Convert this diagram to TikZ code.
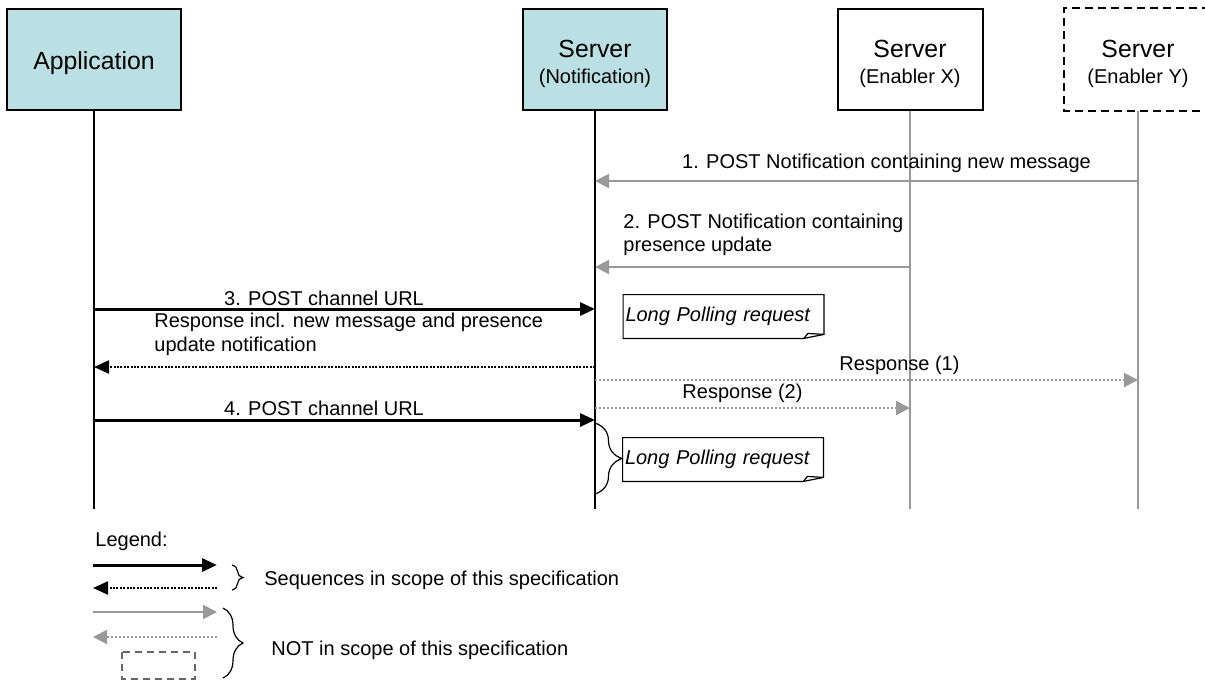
\documentclass[tikz,border=0pt]{standalone}
\usepackage{fontspec}
\setmainfont{Liberation Sans}
\usetikzlibrary{arrows.meta,decorations.pathreplacing,positioning}

\definecolor{boxcyan}{RGB}{187,224,227}
\definecolor{midgrey}{RGB}{153,153,153}
\definecolor{darkgrey}{RGB}{102,102,102}

\newcommand\bigfont{\fontsize{12.4}{13.4}\selectfont}
\newcommand\lblfont{\fontsize{10}{11.7}\selectfont}
\newcommand\toppad{\rule{0pt}{13pt}}

\tikzset{
  actor/.style={draw, line width=1pt, fill=boxcyan, minimum height=50.5pt,
    inner sep=0pt, align=center, font=\bigfont},
  extactor/.style={draw, line width=1pt, minimum height=50.5pt,
    inner sep=0pt, align=center, font=\bigfont},
  lifeline/.style={line width=1pt},
  extlifeline/.style={line width=1pt, midgrey},
  reqmsg/.style={line width=1.5pt, -{Triangle[length=7.5pt,width=6.5pt]}},
  respmsg/.style={line width=1.1pt, dash pattern=on 1pt off 0.7pt,
    -{Triangle[length=7.5pt,width=6.5pt]}},
  extmsg/.style={line width=1pt, midgrey, -{Triangle[length=7pt,width=7pt]}},
  extresp/.style={line width=1pt, midgrey, dash pattern=on 1pt off 1pt,
    -{Triangle[length=7pt,width=7pt]}},
  lbl/.style={font=\lblfont, inner sep=0pt},
  notetext/.style={font=\lblfont\itshape, text width=98pt, inner xsep=1pt,
    inner ysep=0pt, minimum height=21.5pt, align=left},
  lpbrace/.style={line width=0.6pt, decorate, decoration={brace, amplitude=#1}},
}

% folded note outline
\newcommand\dogear[1]{%
  \draw[line width=0.6pt] (#1.north west) -- (#1.north east)
    -- ([yshift=2pt]#1.south east) -- ([xshift=-10pt]#1.south east)
    -- (#1.south west) -- cycle;
  \draw[line width=0.6pt] ([xshift=-10pt]#1.south east)
    -- ([xshift=-8pt,yshift=2.5pt]#1.south east) -- ([yshift=2pt]#1.south east);}

\begin{document}
\begin{tikzpicture}[x=0.5pt,y=-0.5pt]

  \useasboundingbox (0,0) rectangle (1205,682);
  \clip (0,0) rectangle (1205,682);

  % Nodes

  \node[actor, minimum width=87pt] (app) at (94,59.5) {\toppad Application};
  \node[actor, minimum width=72pt] (nsrv) at (595,59.5)
    {\toppad Server\\{\lblfont (Notification)}};
  \node[extactor, minimum width=72.5pt] (xsrv) at (910,59.5)
    {\toppad Server\\{\lblfont (Enabler X)}};
  \node[extactor, draw=none, minimum width=73pt] (ysrv) at (1138,59.5)
    {\toppad Server\\{\lblfont (Enabler Y)}};
  % open to the right, runs off the page
  \draw[line width=1pt, dash pattern=on 4pt off 2.5pt]
    ([xshift=12pt]ysrv.north east) -- (ysrv.north west) -- (ysrv.south west)
    -- ([xshift=12pt]ysrv.south east);

  % Lifelines

  \coordinate (bottom) at (0,509);
  \draw[lifeline] (app) -- (app |- bottom);
  \draw[lifeline] (nsrv) -- (nsrv |- bottom);
  \draw[extlifeline] (xsrv) -- (xsrv |- bottom);
  \draw[extlifeline] (ysrv) -- (ysrv |- bottom);

  % Messages

  \coordinate (m1) at (0,181);
  \coordinate (m2) at (0,267);
  \coordinate (m3) at (0,309);
  \coordinate (m4) at (0,367);
  \coordinate (m5) at (0,380);
  \coordinate (m6) at (0,408);
  \coordinate (m7) at (0,420);

  \draw[extmsg] (ysrv |- m1) -- (nsrv |- m1);
  \draw[extmsg] (xsrv |- m2) -- (nsrv |- m2);
  \draw[reqmsg] (app |- m3) -- (nsrv |- m3);
  \draw[respmsg] (nsrv |- m4) -- (app |- m4);
  \draw[extresp] (nsrv |- m5) -- (ysrv |- m5);
  \draw[extresp] (nsrv |- m6) -- (xsrv |- m6);
  \draw[reqmsg] (app |- m7) -- (nsrv |- m7);

  \node[lbl] (l1) at (886.5,163) {1. POST Notification containing new message};
  \node[lbl, anchor=west, align=left] (l2) at (623,235)
    {2. POST Notification containing\\presence update};
  \node[lbl] (l3) at (324,298) {3. POST channel URL};
  \node[lbl, anchor=west, align=left, font=\fontsize{10}{12}\selectfont] (l4) at (154,334)
    {Response incl. new message and presence\\update notification};
  \node[lbl] (l5) at (899.5,365) {Response (1)};
  \node[lbl] (l6) at (742.5,393) {Response (2)};
  \node[lbl] (l7) at (324,408) {4. POST channel URL};

  % Notes

  \node[notetext] (lp1) at (723.5,316.5) {Long Polling request};
  \dogear{lp1}
  \node[notetext] (lp2) at (723,459.5) {Long Polling request};
  \dogear{lp2}

  \coordinate (b1) at (0,423);
  \coordinate (b2) at (0,494);
  \draw[lpbrace=13.5pt] (nsrv |- b1) -- (nsrv |- b2);

  % Legend

  \node[lbl, anchor=west] (legend) at (95,541) {Legend:};

  \coordinate (ga1) at (93,565);  \coordinate (ga2) at (217,565);
  \coordinate (gb1) at (93,588);  \coordinate (gb2) at (217,588);
  \coordinate (gc1) at (93,612);  \coordinate (gc2) at (217,612);
  \coordinate (gd1) at (93,637);  \coordinate (gd2) at (217,637);
  \coordinate (ge1) at (122,652); \coordinate (ge2) at (195,679);

  \draw[reqmsg] (ga1) -- (ga2);
  \draw[respmsg] (gb2) -- (gb1);
  \draw[extmsg] (gc1) -- (gc2);
  \draw[extresp] (gd2) -- (gd1);
  \draw[line width=1pt, darkgrey, dash pattern=on 3.5pt off 2.5pt] (ge1) rectangle (ge2);

  \coordinate (gf1) at (232,565); \coordinate (gf2) at (232,590);
  \coordinate (gg1) at (223,608); \coordinate (gg2) at (223,678);
  \draw[lpbrace=5.5pt] (gf1) -- (gf2);
  \draw[lpbrace=10pt] (gg1) -- (gg2);

  \node[lbl, anchor=west] (inscope) at (264,580) {Sequences in scope of this specification};
  \node[lbl, anchor=west] (outscope) at (271,650) {NOT in scope of this specification};

\end{tikzpicture}
\end{document}
